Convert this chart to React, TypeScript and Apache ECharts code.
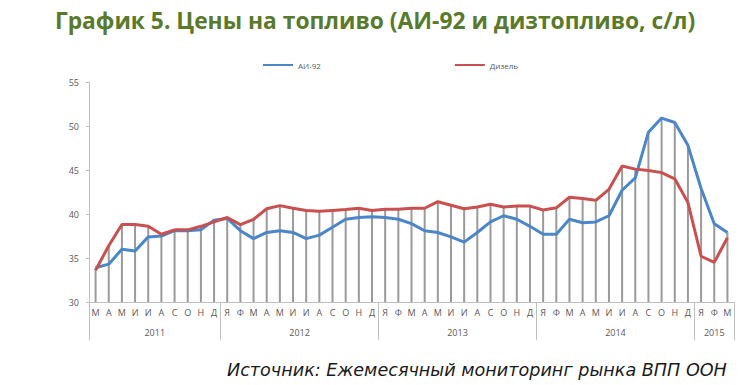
import React, { useEffect, useRef } from "react";
import * as echarts from "echarts";

const monthLetters = [
  "М", "А", "М", "И", "И", "А", "С", "О", "Н", "Д",
  "Я", "Ф", "М", "А", "М", "И", "И", "А", "С", "О", "Н", "Д",
  "Я", "Ф", "М", "А", "М", "И", "И", "А", "С", "О", "Н", "Д",
  "Я", "Ф", "М", "А", "М", "И", "И", "А", "С", "О", "Н", "Д",
  "Я", "Ф", "М",
];
const categories = monthLetters.map((_, i) => "m" + i);

const years = ["2011", "2012", "2013", "2014", "2015"];
const yearStartIdx = [0, 10, 22, 34, 46];
const yearLabelIdx = [4, 15, 27, 39, 47];
const yearLabelShifted = [true, true, true, true, false];

const ai92 = [
  33.9, 34.3, 36.0, 35.8, 37.4, 37.5, 38.1, 38.1, 38.2, 39.3,
  39.5, 38.1, 37.2, 37.9, 38.1, 37.9, 37.2, 37.6, 38.5, 39.4, 39.6, 39.7,
  39.6, 39.4, 38.9, 38.1, 37.9, 37.4, 36.8, 37.9, 39.1, 39.8, 39.4, 38.6,
  37.7, 37.7, 39.4, 39.0, 39.1, 39.8, 42.7, 44.1, 49.3, 50.9, 50.4, 47.8,
  42.9, 38.9, 37.9,
];
const diesel = [
  33.6, 36.4, 38.8, 38.8, 38.6, 37.7, 38.2, 38.2, 38.6, 39.1,
  39.6, 38.8, 39.4, 40.6, 40.95, 40.65, 40.4, 40.3, 40.4, 40.5, 40.65, 40.4,
  40.55, 40.55, 40.65, 40.65, 41.4, 41.0, 40.6, 40.8, 41.1, 40.8, 40.9, 40.9,
  40.45, 40.7, 41.9, 41.75, 41.55, 42.8, 45.45, 45.1, 44.95, 44.7, 44.0, 41.3,
  35.2, 34.5, 37.3,
];

const yMin = 30;
const yMax = 55;
const yStep = 5;

export default function App() {
  const ref = useRef<HTMLDivElement>(null);

  useEffect(() => {
    if (!ref.current) return;
    const chart = echarts.init(ref.current, undefined, { renderer: "svg" });
    const dropTops = ai92.map((v, i) => [i, Math.max(v, diesel[i])]);
    const labelColor = "#595959";
    const axisGray = "#bfbfbf";

    chart.setOption({
      animation: false,
      backgroundColor: "#ffffff",
      title: [
        {
          text: "График 5. Цены на топливо (АИ-92 и дизтопливо, с/л)",
          left: "center",
          top: 4,
          textStyle: {
            fontFamily: "Open Sans",
            fontWeight: "bold",
            fontSize: 22.8,
            color: "#587a2a",
          },
        },
        {
          text: "Источник: Ежемесячный мониторинг рынка ВПП ООН",
          left: 222,
          top: 356,
          textStyle: {
            fontFamily: "DejaVu Sans",
            fontStyle: "italic",
            fontWeight: "normal",
            fontSize: 17.6,
            color: "#1a1a1a",
          },
        },
      ],
      legend: {
        top: 56,
        left: 258,
        itemGap: 134,
        itemWidth: 30,
        itemHeight: 8,
        icon: "path://M0,3 L30,3 L30,5 L0,5 Z",
        textStyle: { fontSize: 8, color: labelColor, fontFamily: "Open Sans" },
        data: ["АИ-92", "Дизель"],
      },
      grid: { left: 89, right: 16, top: 82, bottom: 83 },
      xAxis: [
        {
          type: "category",
          data: categories,
          boundaryGap: true,
          axisLine: { show: true, lineStyle: { color: axisGray, width: 1 } },
          axisTick: { show: false },
          axisLabel: {
            interval: 0,
            margin: 6,
            fontSize: 9,
            color: labelColor,
            fontFamily: "Open Sans",
            formatter: (_v: string, i: number) => monthLetters[i],
          },
        },
        {
          type: "category",
          data: categories,
          position: "bottom",
          boundaryGap: true,
          axisLine: { show: false },
          axisTick: {
            show: true,
            length: 38,
            interval: (i: number) => yearStartIdx.indexOf(i) >= 0,
            lineStyle: { color: axisGray, width: 1 },
          },
          axisLabel: {
            margin: 26,
            fontSize: 9,
            color: labelColor,
            fontFamily: "Open Sans",
            interval: (i: number) => yearLabelIdx.indexOf(i) >= 0,
            formatter: (_v: string, i: number) => {
              const k = yearLabelIdx.indexOf(i);
              if (k < 0) return "";
              return yearLabelShifted[k] ? "{s|" + years[k] + "}" : "{c|" + years[k] + "}";
            },
            rich: {
              s: { padding: [0, 0, 0, 13], fontSize: 9, color: labelColor, fontFamily: "Open Sans" },
              c: { fontSize: 9, color: labelColor, fontFamily: "Open Sans" },
            },
          },
        },
      ],
      yAxis: {
        type: "value",
        min: yMin,
        max: yMax,
        interval: yStep,
        axisLine: { show: true, lineStyle: { color: axisGray, width: 1 } },
        axisTick: { show: true, length: 3, lineStyle: { color: axisGray } },
        splitLine: { show: false },
        axisLabel: { fontSize: 9, color: labelColor, margin: 10, fontFamily: "Open Sans" },
      },
      series: [
        {
          name: "drops",
          type: "custom",
          z: 1,
          silent: true,
          data: dropTops,
          renderItem: (_params: any, api: any) => {
            const i = api.value(0);
            const top = api.coord([i, api.value(1)]);
            const base = api.coord([i, yMin]);
            return {
              type: "line",
              shape: { x1: top[0], y1: top[1], x2: base[0], y2: base[1] },
              style: { stroke: "#9a9a9a", lineWidth: 2 },
            };
          },
        },
        {
          name: "АИ-92",
          type: "line",
          z: 3,
          data: ai92,
          symbol: "none",
          lineStyle: { color: "#4a86c8", width: 3 },
          itemStyle: { color: "#4a86c8" },
        },
        {
          name: "Дизель",
          type: "line",
          z: 4,
          data: diesel,
          symbol: "none",
          lineStyle: { color: "#c9504f", width: 3 },
          itemStyle: { color: "#c9504f" },
        },
      ],
    });
    return () => chart.dispose();
  }, []);

  return (
    <div
      ref={ref}
      style={{ position: "fixed", left: 0, top: 0, width: 750, height: 385 }}
    />
  );
}
